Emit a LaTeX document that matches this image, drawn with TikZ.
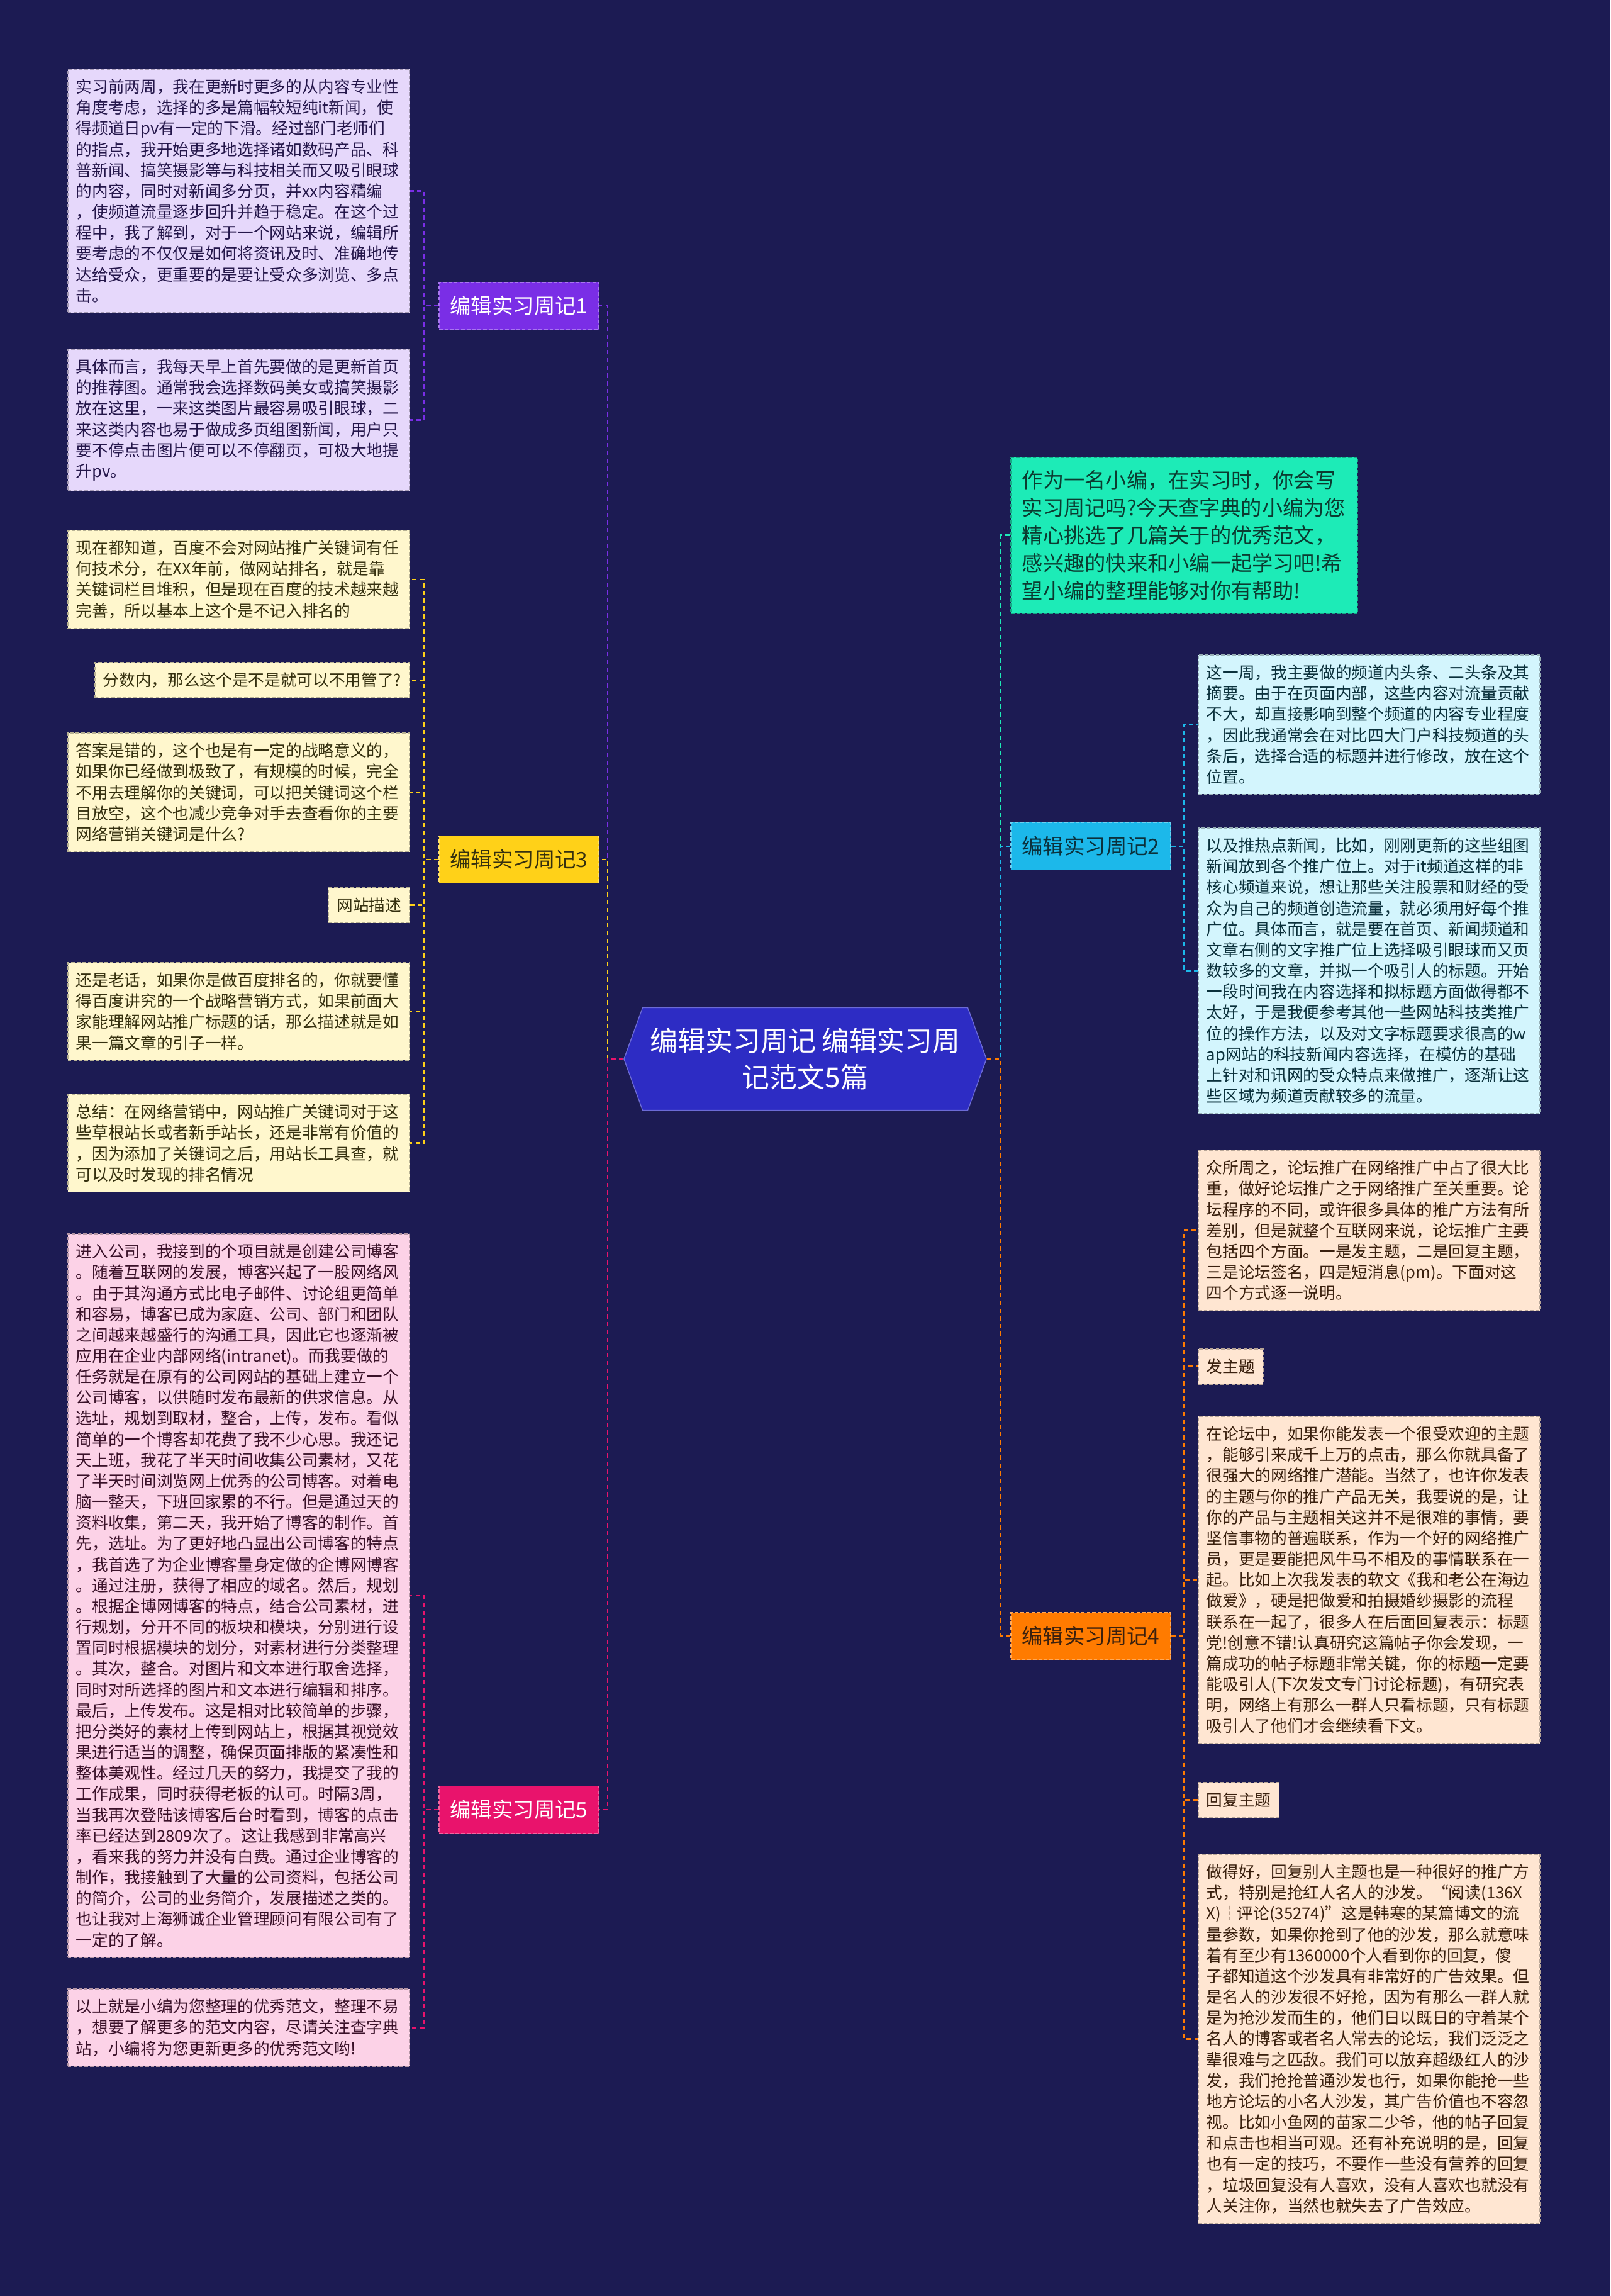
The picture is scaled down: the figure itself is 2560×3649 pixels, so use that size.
\documentclass[tikz,border=0pt]{standalone}
\usepackage{fontspec}
\setmainfont{Noto Sans CJK SC}
\usetikzlibrary{shapes.symbols}
\definecolor{navy}{HTML}{1C1B53}
\definecolor{hubblue}{HTML}{2D2CC4}
\definecolor{wkpurple}{HTML}{7A2EE6}
\definecolor{wkgold}{HTML}{FFD118}
\definecolor{wkpink}{HTML}{E9136C}
\definecolor{wkcyan}{HTML}{1CB8EA}
\definecolor{wkorange}{HTML}{FF7B00}
\definecolor{wkmint}{HTML}{1DEBB7}
\definecolor{pplight}{HTML}{E6D8FB}
\definecolor{gdlight}{HTML}{FFF7CD}
\definecolor{pklight}{HTML}{FCD2E7}
\definecolor{cylight}{HTML}{D3F5FD}
\definecolor{orlight}{HTML}{FFE6D2}
\definecolor{pptext}{HTML}{24164A}
\definecolor{gdtext}{HTML}{35300F}
\definecolor{pktext}{HTML}{3A1129}
\definecolor{cytext}{HTML}{0B313C}
\definecolor{ortext}{HTML}{3A200E}
\definecolor{mttext}{HTML}{0B3B30}
\begin{document}
\begin{tikzpicture}[x=0.01cm,y=-0.01cm,
  leaf/.style={rectangle,fill=#1,draw=#1!72!black,line width=0.5pt,dash pattern=on 1.6pt off 0.9pt,
    font=\fontsize{7.3pt}{9.43pt}\selectfont,align=left,inner xsep=0.13cm,inner ysep=0.16cm},
  wide/.style={text width=5.17cm},
  week/.style={rectangle,fill=#1,draw=#1!65!white,line width=0.5pt,dash pattern=on 1.6pt off 0.9pt,
    minimum width=2.54cm,minimum height=0.75cm,font=\fontsize{9.5pt}{11pt}\selectfont},
  link/.style={draw=#1,line width=0.75pt,dash pattern=on 2pt off 1.5pt}]
\useasboundingbox (0,0) rectangle (2560,3649);
\fill[navy] (0,0) rectangle (2560,3649);

\node[signal,signal to=west and east,signal pointer angle=140,fill=hubblue,draw=hubblue!70!white,
  minimum width=5.6cm,minimum height=1.63cm,text=white,align=center,
  font=\fontsize{12.5pt}{16.5pt}\selectfont] (hub) at (1280,1683) {编辑实习周记 编辑实习周\\记范文5篇};

\node[week=wkpurple,text=white] (w1) at (825,486) {编辑实习周记1};
\node[week=wkgold,text=gdtext] (w3) at (825,1366) {编辑实习周记3};
\node[week=wkpink,text=white] (w5) at (825,2876) {编辑实习周记5};
\node[week=wkcyan,text=cytext] (w2) at (1734,1345) {编辑实习周记2};
\node[week=wkorange,text=ortext] (w4) at (1734,2600) {编辑实习周记4};

\node[leaf=wkmint,text=mttext,anchor=north west,text width=5.15cm,inner xsep=0.18cm,inner ysep=0.2cm,
  font=\fontsize{9.45pt}{12.58pt}\selectfont] (intro) at (1606,726)
  {作为一名小编，在实习时，你会写\\实习周记吗?今天查字典的小编为您\\精心挑选了几篇关于的优秀范文，\\感兴趣的快来和小编一起学习吧!希\\望小编的整理能够对你有帮助!};

\node[leaf=pplight,wide,text=pptext,anchor=north east] (p1) at (652,109)
  {实习前两周，我在更新时更多的从内容专业性\\角度考虑，选择的多是篇幅较短纯it新闻，使\\得频道日pv有一定的下滑。经过部门老师们\\的指点，我开始更多地选择诸如数码产品、科\\普新闻、搞笑摄影等与科技相关而又吸引眼球\\的内容，同时对新闻多分页，并xx内容精编\\，使频道流量逐步回升并趋于稳定。在这个过\\程中，我了解到，对于一个网站来说，编辑所\\要考虑的不仅仅是如何将资讯及时、准确地传\\达给受众，更重要的是要让受众多浏览、多点\\击。};
\node[leaf=pplight,wide,text=pptext,anchor=north east] (p2) at (652,554)
  {具体而言，我每天早上首先要做的是更新首页\\的推荐图。通常我会选择数码美女或搞笑摄影\\放在这里，一来这类图片最容易吸引眼球，二\\来这类内容也易于做成多页组图新闻，用户只\\要不停点击图片便可以不停翻页，可极大地提\\升pv。};

\node[leaf=gdlight,wide,text=gdtext,anchor=north east] (g1) at (652,842)
  {现在都知道，百度不会对网站推广关键词有任\\何技术分，在XX年前，做网站排名，就是靠\\关键词栏目堆积，但是现在百度的技术越来越\\完善，所以基本上这个是不记入排名的};
\node[leaf=gdlight,text=gdtext,anchor=north east] (g2) at (652,1052) {分数内，那么这个是不是就可以不用管了?};
\node[leaf=gdlight,wide,text=gdtext,anchor=north east] (g3) at (652,1164)
  {答案是错的，这个也是有一定的战略意义的，\\如果你已经做到极致了，有规模的时候，完全\\不用去理解你的关键词，可以把关键词这个栏\\目放空，这个也减少竞争对手去查看你的主要\\网络营销关键词是什么?};
\node[leaf=gdlight,text=gdtext,anchor=north east] (g4) at (652,1410) {网站描述};
\node[leaf=gdlight,wide,text=gdtext,anchor=north east] (g5) at (652,1529)
  {还是老话，如果你是做百度排名的，你就要懂\\得百度讲究的一个战略营销方式，如果前面大\\家能理解网站推广标题的话，那么描述就是如\\果一篇文章的引子一样。};
\node[leaf=gdlight,wide,text=gdtext,anchor=north east] (g6) at (652,1738)
  {总结：在网络营销中，网站推广关键词对于这\\些草根站长或者新手站长，还是非常有价值的\\，因为添加了关键词之后，用站长工具查，就\\可以及时发现的排名情况};

\node[leaf=pklight,wide,text=pktext,anchor=north east] (k1) at (652,1960)
  {进入公司，我接到的个项目就是创建公司博客\\。随着互联网的发展，博客兴起了一股网络风\\。由于其沟通方式比电子邮件、讨论组更简单\\和容易，博客已成为家庭、公司、部门和团队\\之间越来越盛行的沟通工具，因此它也逐渐被\\应用在企业内部网络(intranet)。而我要做的\\任务就是在原有的公司网站的基础上建立一个\\公司博客，以供随时发布最新的供求信息。从\\选址，规划到取材，整合，上传，发布。看似\\简单的一个博客却花费了我不少心思。我还记\\天上班，我花了半天时间收集公司素材，又花\\了半天时间浏览网上优秀的公司博客。对着电\\脑一整天，下班回家累的不行。但是通过天的\\资料收集，第二天，我开始了博客的制作。首\\先，选址。为了更好地凸显出公司博客的特点\\，我首选了为企业博客量身定做的企博网博客\\。通过注册，获得了相应的域名。然后，规划\\。根据企博网博客的特点，结合公司素材，进\\行规划，分开不同的板块和模块，分别进行设\\置同时根据模块的划分，对素材进行分类整理\\。其次，整合。对图片和文本进行取舍选择，\\同时对所选择的图片和文本进行编辑和排序。\\最后，上传发布。这是相对比较简单的步骤，\\把分类好的素材上传到网站上，根据其视觉效\\果进行适当的调整，确保页面排版的紧凑性和\\整体美观性。经过几天的努力，我提交了我的\\工作成果，同时获得老板的认可。时隔3周，\\当我再次登陆该博客后台时看到，博客的点击\\率已经达到2809次了。这让我感到非常高兴\\，看来我的努力并没有白费。通过企业博客的\\制作，我接触到了大量的公司资料，包括公司\\的简介，公司的业务简介，发展描述之类的。\\也让我对上海狮诚企业管理顾问有限公司有了\\一定的了解。};
\node[leaf=pklight,wide,text=pktext,anchor=north east] (k2) at (652,3160)
  {以上就是小编为您整理的优秀范文，整理不易\\，想要了解更多的范文内容，尽请关注查字典\\站，小编将为您更新更多的优秀范文哟!};

\node[leaf=cylight,wide,text=cytext,anchor=north west] (c1) at (1904,1040)
  {这一周，我主要做的频道内头条、二头条及其\\摘要。由于在页面内部，这些内容对流量贡献\\不大，却直接影响到整个频道的内容专业程度\\，因此我通常会在对比四大门户科技频道的头\\条后，选择合适的标题并进行修改，放在这个\\位置。};
\node[leaf=cylight,wide,text=cytext,anchor=north west] (c2) at (1904,1315)
  {以及推热点新闻，比如，刚刚更新的这些组图\\新闻放到各个推广位上。对于it频道这样的非\\核心频道来说，想让那些关注股票和财经的受\\众为自己的频道创造流量，就必须用好每个推\\广位。具体而言，就是要在首页、新闻频道和\\文章右侧的文字推广位上选择吸引眼球而又页\\数较多的文章，并拟一个吸引人的标题。开始\\一段时间我在内容选择和拟标题方面做得都不\\太好，于是我便参考其他一些网站科技类推广\\位的操作方法，以及对文字标题要求很高的w\\ap网站的科技新闻内容选择，在模仿的基础\\上针对和讯网的受众特点来做推广，逐渐让这\\些区域为频道贡献较多的流量。};

\node[leaf=orlight,wide,text=ortext,anchor=north west] (r1) at (1904,1827)
  {众所周之，论坛推广在网络推广中占了很大比\\重，做好论坛推广之于网络推广至关重要。论\\坛程序的不同，或许很多具体的推广方法有所\\差别，但是就整个互联网来说，论坛推广主要\\包括四个方面。一是发主题，二是回复主题，\\三是论坛签名，四是短消息(pm)。下面对这\\四个方式逐一说明。};
\node[leaf=orlight,text=ortext,anchor=north west] (r2) at (1904,2143) {发主题};
\node[leaf=orlight,wide,text=ortext,anchor=north west] (r3) at (1904,2250)
  {在论坛中，如果你能发表一个很受欢迎的主题\\，能够引来成千上万的点击，那么你就具备了\\很强大的网络推广潜能。当然了，也许你发表\\的主题与你的推广产品无关，我要说的是，让\\你的产品与主题相关这并不是很难的事情，要\\坚信事物的普遍联系，作为一个好的网络推广\\员，更是要能把风牛马不相及的事情联系在一\\起。比如上次我发表的软文《我和老公在海边\\做爱》，硬是把做爱和拍摄婚纱摄影的流程\\联系在一起了，很多人在后面回复表示：标题\\党!创意不错!认真研究这篇帖子你会发现，一\\篇成功的帖子标题非常关键，你的标题一定要\\能吸引人(下次发文专门讨论标题)，有研究表\\明，网络上有那么一群人只看标题，只有标题\\吸引人了他们才会继续看下文。};
\node[leaf=orlight,text=ortext,anchor=north west] (r4) at (1904,2832) {回复主题};
\node[leaf=orlight,wide,text=ortext,anchor=north west] (r5) at (1904,2946)
  {做得好，回复别人主题也是一种很好的推广方\\式，特别是抢红人名人的沙发。“阅读(136X\\X)┆评论(35274)”这是韩寒的某篇博文的流\\量参数，如果你抢到了他的沙发，那么就意味\\着有至少有1360000个人看到你的回复，傻\\子都知道这个沙发具有非常好的广告效果。但\\是名人的沙发很不好抢，因为有那么一群人就\\是为抢沙发而生的，他们日以既日的守着某个\\名人的博客或者名人常去的论坛，我们泛泛之\\辈很难与之匹敌。我们可以放弃超级红人的沙\\发，我们抢抢普通沙发也行，如果你能抢一些\\地方论坛的小名人沙发，其广告价值也不容忽\\视。比如小鱼网的苗家二少爷，他的帖子回复\\和点击也相当可观。还有补充说明的是，回复\\也有一定的技巧，不要作一些没有营养的回复\\，垃圾回复没有人喜欢，没有人喜欢也就没有\\人关注你，当然也就失去了广告效应。};

\foreach \w/\c in {w1/wkpurple,w3/wkgold,w5/wkpink}
  \draw[link=\c] (hub.west) -- ++(-25,0) |- (\w.east);
\foreach \w/\c in {intro/wkmint,w2/wkcyan,w4/wkorange}
  \draw[link=\c] (hub.east) -- ++(22,0) |- (\w.west);
\foreach \l in {p1,p2} \draw[link=wkpurple] (w1.west) -- ++(-23,0) |- (\l.east);
\foreach \l in {g1,g2,g3,g4,g5,g6} \draw[link=wkgold] (w3.west) -- ++(-23,0) |- (\l.east);
\foreach \l in {k1,k2} \draw[link=wkpink] (w5.west) -- ++(-23,0) |- (\l.east);
\foreach \l in {c1,c2} \draw[link=wkcyan] (w2.east) -- ++(20,0) |- (\l.west);
\foreach \l in {r1,r2,r3,r4,r5} \draw[link=wkorange] (w4.east) -- ++(20,0) |- (\l.west);
\end{tikzpicture}
\end{document}
